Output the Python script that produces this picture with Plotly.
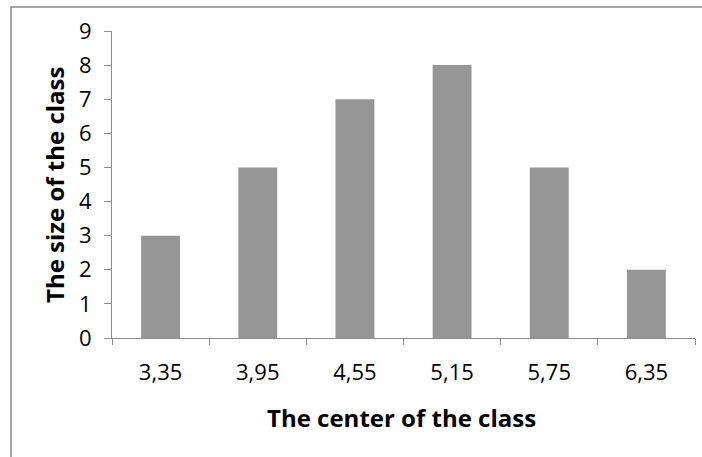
import plotly.graph_objects as go

# Class centers and class sizes
class_centers = ["3,35", "3,95", "4,55", "5,15", "5,75", "6,35"]
class_sizes = [3, 5, 7, 8, 5, 2]
y_ticks = [0, 1, 2, 3, 4, 5, 6, 7, 8, 9]

axis_grey = "#8c8c8c"
bar_grey = "#969696"
font_family = "Open Sans, Liberation Sans, sans-serif"

fig = go.Figure(
    go.Bar(
        x=class_centers,
        y=class_sizes,
        marker=dict(color=bar_grey, line=dict(width=0)),
        width=0.4,
    )
)

fig.update_layout(
    width=702,
    height=457,
    margin=dict(l=112, r=7, t=31, b=119),
    paper_bgcolor="white",
    plot_bgcolor="white",
    showlegend=False,
    font=dict(family=font_family, size=22, color="#000000"),
)

fig.update_xaxes(
    type="category",
    showgrid=False,
    showline=True,
    linecolor=axis_grey,
    linewidth=1,
    ticks="outside",
    tickson="boundaries",
    ticklen=6,
    tickcolor=axis_grey,
    ticklabelstandoff=15,
    tickfont=dict(size=22),
)

fig.update_yaxes(
    range=[0, 9],
    tickvals=y_ticks,
    showgrid=False,
    zeroline=False,
    showline=True,
    linecolor=axis_grey,
    linewidth=1,
    ticks="outside",
    ticklen=7,
    tickcolor=axis_grey,
    ticklabelstandoff=8,
    tickfont=dict(size=22),
)

# Axis titles
fig.add_annotation(
    text="<b>The center of the class</b>",
    xref="paper", yref="paper",
    x=(401 - 112) / 583, y=(338 - 417) / 307,
    xanchor="center", yanchor="middle",
    showarrow=False,
    font=dict(size=24, family=font_family),
)
fig.add_annotation(
    text="<b>The size of the class</b>",
    xref="paper", yref="paper",
    x=(54 - 112) / 583, y=(338 - 185) / 307,
    xanchor="center", yanchor="middle",
    textangle=-90,
    showarrow=False,
    font=dict(size=24, family=font_family),
)

# Chart area border (continues past the right and bottom edges)
fig.add_shape(
    type="rect",
    xref="paper", yref="paper",
    x0=(11 - 112) / 583, x1=1.05,
    y0=-0.5, y1=1 + (31 - 7) / 307,
    line=dict(color="#8a8a8a", width=1.5),
    layer="below",
)

fig.write_html("out.html")
